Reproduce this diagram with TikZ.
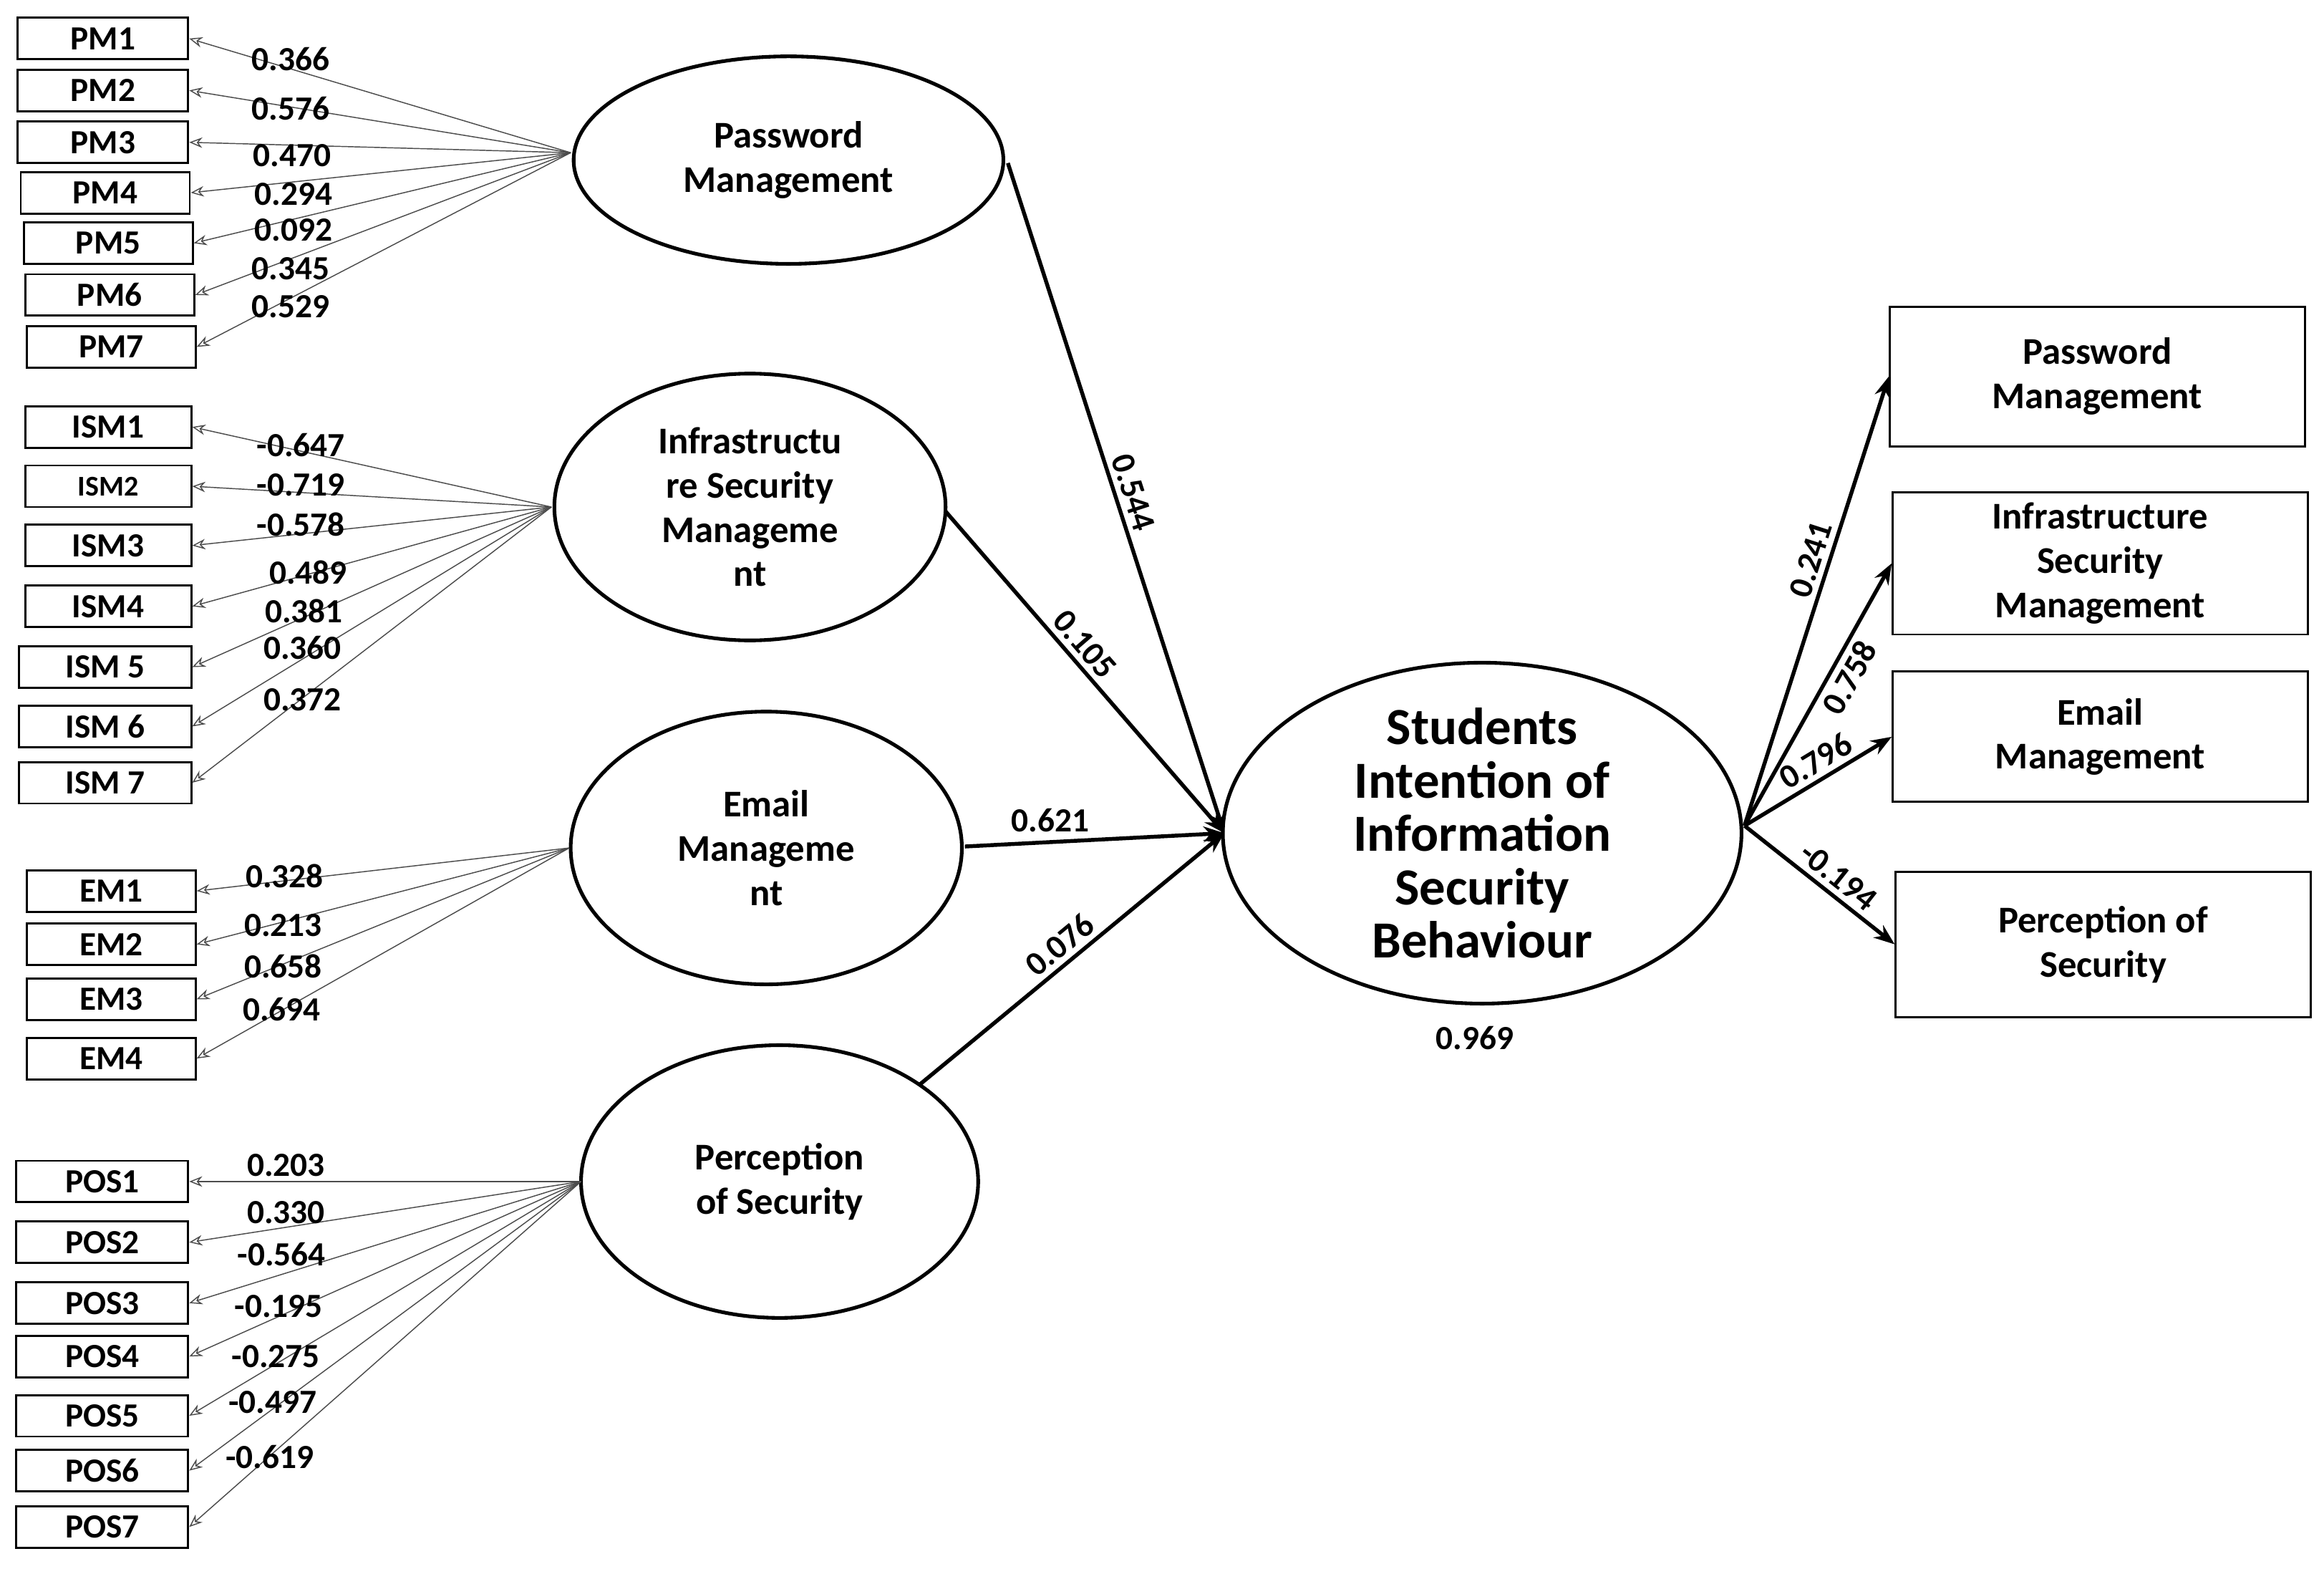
\documentclass[tikz,border=0pt]{standalone}
\usepackage{fontspec}
\setmainfont{Carlito}
\usetikzlibrary{arrows.meta,shapes.geometric}
\begin{document}
\begin{tikzpicture}[x=0.02cm,y=-0.02cm,
 box/.style={draw,thick,minimum height=0.56cm,inner sep=0pt,font=\fontsize{13}{13}\selectfont\bfseries},
 lat/.style={draw,line width=1.4pt,ellipse,inner sep=0pt,align=center,font=\fontsize{14.5}{17}\selectfont\bfseries},
 rbox/.style={draw,thick,inner sep=0pt,align=center,minimum width=5.6cm,font=\fontsize{14.5}{17}\selectfont\bfseries},
 ld/.style={draw=black!70,line width=0.4pt,-{Stealth[length=5pt,width=4pt,open]}},
 md/.style={line width=1.5pt,-{Stealth[length=8pt,width=6pt]}},
 lb/.style={font=\fontsize{13}{13}\selectfont\bfseries,inner sep=0pt}]
\useasboundingbox (0,0) rectangle (1568,1058);
% ellipses
\node[lat,minimum width=5.8cm,minimum height=2.8cm] (pm) at (532,108) {Password\\Management};
\node[lat,minimum width=5.28cm,minimum height=3.6cm] (ism) at (506,342) {Infrastructu\\re Security\\Manageme\\nt};
\node[lat,minimum width=5.28cm,minimum height=3.68cm] (em) at (517,572) {Email\\Manageme\\nt};
\node[lat,minimum width=5.36cm,minimum height=3.68cm] (pos) at (526,797) {Perception\\of Security};
\node[lat,minimum width=7cm,minimum height=4.6cm] (sb) at (1000,562) {};
\node[align=center,inner sep=0pt,font=\fontsize{20}{20.5}\selectfont\bfseries] (sbt) at (1000,562) {Students\\Intention of\\Information\\Security\\Behaviour};
\node[lb] at (995,700) {0.969};
\coordinate (pmS) at (385,103);
\coordinate (ismS) at (372,342);
\coordinate (emS) at (384,572);
\coordinate (posS) at (392,797);
\coordinate (sbIn) at (826,562);
\coordinate (sbOut) at (1177,557);
% PM indicators
\foreach \n/\xa/\xb/\y/\v/\lx/\ly in {1/12/127/26/0.366/196/40,2/12/127/61/0.576/196/73,3/12/127/96/0.470/197/105,4/14/128/130/0.294/198/131,5/16/130/164/0.092/198/155,6/17/131/199/0.345/196/181,7/18/132/234/0.529/196/207}{
 \node[box,minimum width={(\xb-\xa)*0.02cm}] (PM\n) at ({(\xa+\xb)/2},\y) {PM\n};
 \draw[ld] (pmS) -- (PM\n.east);
 \node[lb] at (\lx,\ly) {\v};}
% ISM
\foreach \n/\t/\xa/\xb/\y/\v/\lx/\ly in {1/ISM1/17/129/288/-0.647/203/300,2/{\fontsize{11}{11}\selectfont ISM2}/17/129/328/-0.719/203/327,3/ISM3/17/129/368/-0.578/203/354,4/ISM4/17/129/409/0.489/208/386,5/ISM 5/13/129/450/0.381/205/412,6/ISM 6/13/129/490/0.360/204/437,7/ISM 7/13/129/528/0.372/204/472}{
 \node[box,minimum width={(\xb-\xa)*0.02cm}] (ISM\n) at ({(\xa+\xb)/2},\y) {\t};
 \draw[ld] (ismS) -- (ISM\n.east);
 \node[lb] at (\lx,\ly) {\v};}
% EM
\foreach \n/\y/\v/\lx/\ly in {1/601/0.328/192/591,2/637/0.213/191/624,3/674/0.658/191/652,4/714/0.694/190/681}{
 \node[box,minimum width=2.28cm] (EM\n) at (75,\y) {EM\n};
 \draw[ld] (emS) -- (EM\n.east);
 \node[lb] at (\lx,\ly) {\v};}
% POS
\foreach \n/\y/\v/\lx/\ly in {1/797/0.203/193/786,2/838/0.330/193/818,3/879/-0.564/190/846,4/915/-0.195/188/881,5/955/-0.275/186/915,6/992/-0.497/184/946,7/1030/-0.619/182/983}{
 \node[box,minimum width=2.32cm] (POS\n) at (69,\y) {POS\n};
 \draw[ld] (posS) -- (POS\n.east);
 \node[lb] at (\lx,\ly) {\v};}
% structural paths
\draw[md] (680,110) -- (sbIn) node[lb,pos=0.5,above=2pt,sloped] {0.544};
\draw[md] (638,345) -- (sbIn) node[lb,pos=0.45,above=2pt,sloped] {0.105};
\draw[md] (651,571) -- (sbIn) node[lb,pos=0.33,above=3pt] {0.621};
\draw[md] (620,732) -- (sbIn) node[lb,pos=0.5,above=2pt,sloped] {0.076};
% right boxes
\node[rbox,minimum height=1.88cm] (rpm) at (1415,254) {Password\\Management};
\node[rbox,minimum height=1.92cm] (rism) at (1417,380) {Infrastructure\\Security\\Management};
\node[rbox,minimum height=1.76cm] (rem) at (1417,497) {Email\\Management};
\node[rbox,minimum height=1.96cm] (rpos) at (1419,637) {Perception of\\Security};
\draw[md] (sbOut) -- (rpm.west) node[lb,pos=0.58,above=2pt,sloped] {0.241};
\draw[md] (sbOut) -- (rism.west) node[lb,pos=0.6,below=2pt,sloped] {0.758};
\draw[md] (sbOut) -- (rem.west) node[lb,pos=0.55,above=2pt,sloped] {0.796};
\draw[md] (sbOut) -- (rpos.west) node[lb,pos=0.55,above=2pt,sloped] {-0.194};
\end{tikzpicture}
\end{document}
